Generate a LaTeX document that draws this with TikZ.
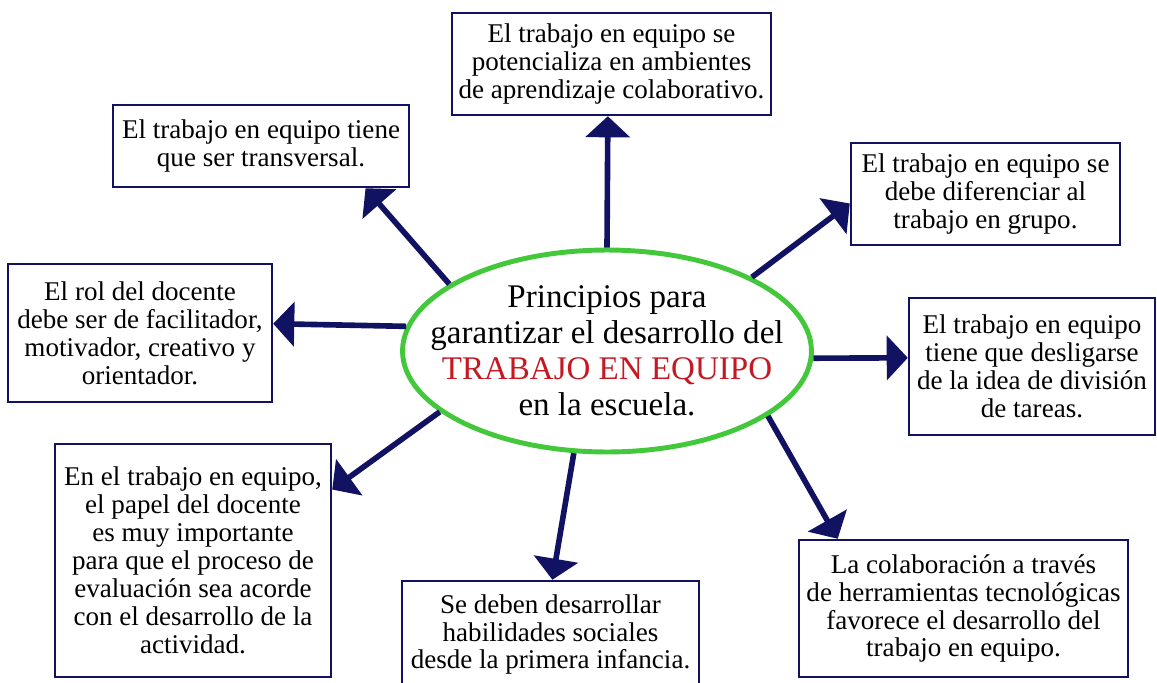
\documentclass[tikz,border=0pt]{standalone}
\usepackage{fontspec}
\setmainfont{Liberation Serif}
\usepackage{tikz, xcolor}
\usetikzlibrary{shapes.geometric, arrows.meta}

\definecolor{navy}{RGB}{18,18,98}
\definecolor{leaf}{RGB}{66,200,58}
\definecolor{brick}{RGB}{196,24,34}

\begin{document}
\begin{tikzpicture}[x=0.02cm, y=-0.02cm,
    idea/.style={draw=navy, line width=1.4pt, fill=white, align=center,
      inner sep=2pt, font=\fontsize{15.4}{15.9}\selectfont},
    link/.style={navy, line width=3.2pt, -{Triangle[length=12pt, width=25pt]}}]
    \useasboundingbox (0, 0) rectangle (1157, 683);

    \node [ellipse, draw=leaf, line width=2.8pt, inner sep=0pt,
      minimum width=8.18cm, minimum height=4.04cm] (centre) at (607, 351) {};
    \node [align=center, font=\fontsize{18.8}{20.5}\selectfont] (title) at (centre)
      {Principios para\\garantizar el desarrollo del\\
       \textcolor{brick}{TRABAJO EN EQUIPO}\\en la escuela.};

    \node [idea, minimum width=6.38cm, minimum height=2.04cm] (potencia) at (611.5, 64)
      {El trabajo en equipo se\\potencializa en ambientes\\de aprendizaje colaborativo.};
    \node [idea, minimum width=5.92cm, minimum height=1.64cm] (transversal) at (261, 146)
      {El trabajo en equipo tiene\\que ser transversal.};
    \node [idea, minimum width=5.38cm, minimum height=2.04cm] (grupo) at (985.5, 194)
      {El trabajo en equipo se\\debe diferenciar al\\trabajo en grupo.};
    \node [idea, minimum width=5.28cm, minimum height=2.76cm] (rol) at (140, 333)
      {El rol del docente\\debe ser de facilitador,\\motivador, creativo y\\orientador.};
    \node [idea, minimum width=4.92cm, minimum height=2.74cm] (division) at (1032, 366.5)
      {El trabajo en equipo\\tiene que desligarse\\de la idea de división\\de tareas.};
    \node [idea, minimum width=5.52cm, minimum height=4.66cm] (papel) at (193, 560.5)
      {En el trabajo en equipo,\\el papel del docente\\es muy importante\\para que el proceso de\\
       evaluación sea acorde\\con el desarrollo de la\\actividad.};
    \node [idea, minimum width=5.94cm, minimum height=2.14cm] (social) at (550.5, 634.5)
      {Se deben desarrollar\\habilidades sociales\\desde la primera infancia.};
    \node [idea, minimum width=6.58cm, minimum height=2.74cm] (tecno) at (963.5, 608.5)
      {La colaboración a través\\de herramientas tecnológicas\\favorece el desarrollo del\\trabajo en equipo.};

    \foreach \from/\goal/\aim in {90/potencia/266, 157/transversal/338, 27/grupo/184,
        173/rol/4, 358/division/176, 200/papel/27, 252/social/88, 338/tecno/151}
    {
      \draw [link] (centre.\from) to (\goal.\aim);
    }

  \end{tikzpicture}
\end{document}
